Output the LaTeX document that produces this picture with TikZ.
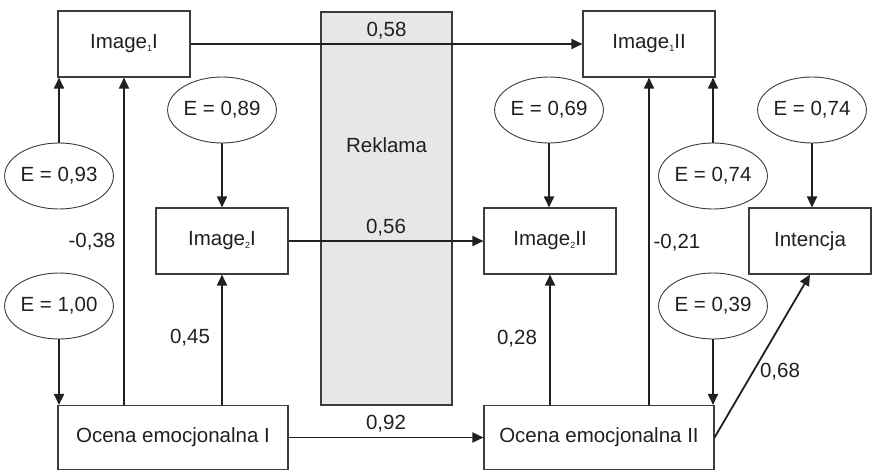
\documentclass[tikz,border=0pt]{standalone}
\usepackage{fontspec}
\setmainfont{Liberation Sans}
\usetikzlibrary{arrows.meta,shapes.geometric}
\definecolor{ink}{HTML}{231F20}
\definecolor{frame}{HTML}{3C3C3C}
\definecolor{adfill}{HTML}{E6E7E9}
\newcommand{\sbs}[1]{\raisebox{-2.5pt}{\fontsize{9}{9}\selectfont #1}}
\begin{document}
\begin{tikzpicture}[x=1pt,y=-1pt,
  every node/.style={text=ink,font=\fontsize{20.5}{24}\selectfont},
  var/.style={draw=frame,line width=1.1pt,fill=white,inner sep=0pt},
  err/.style={draw=frame,line width=0.9pt,ellipse,fill=white,inner sep=0pt,
              minimum width=101pt,minimum height=66pt},
  arr/.style={draw=ink,line width=1.8pt,-{Triangle[length=11pt,width=10pt]}},
  lbl/.style={inner sep=1pt}]
\useasboundingbox (0,0) rectangle (872,470);

% advertising block in the middle
\node[draw=frame,line width=1.1pt,fill=adfill,minimum width=131pt,minimum height=393pt,inner sep=0pt] (rek) at (386.5,208.5) {};
\node at (386.5,145) (rekt) {Reklama};

% observed variables
\node[var,minimum width=132pt,minimum height=66pt] (img1I) at (124,44) {Image\sbs{1}I};
\node[var,minimum width=132pt,minimum height=66pt] (img2I) at (222,241) {Image\sbs{2}I};
\node[var,minimum width=230pt,minimum height=64pt] (ocI) at (173,437.5) {Ocena emocjonalna I};
\node[var,minimum width=132pt,minimum height=66pt] (img1II) at (649,44) {Image\sbs{1}II};
\node[var,minimum width=132pt,minimum height=66pt] (img2II) at (550,241) {Image\sbs{2}II};
\node[var,minimum width=230pt,minimum height=64pt] (ocII) at (599,437.5) {Ocena emocjonalna II};
\node[var,minimum width=122pt,minimum height=66pt] (int) at (810,241) {Intencja};

% error terms
\node[err] (e93) at (59,176) {E = 0,93};
\node[err] (e89) at (222,110) {E = 0,89};
\node[err] (e100) at (59,306) {E = 1,00};
\node[err] (e69) at (549,110) {E = 0,69};
\node[err] (e74b) at (713,176) {E = 0,74};
\node[err] (e74a) at (812,110) {E = 0,74};
\node[err] (e39) at (713,306) {E = 0,39};

% error arrows
\draw[arr] (e93.north) -- (e93.north |- img1I.south);
\draw[arr] (e89.south) -- (e89.south |- img2I.north);
\draw[arr] (e100.south) -- (e100.south |- ocI.north);
\draw[arr] (e69.south) -- (e69.south |- img2II.north);
\draw[arr] (e74b.north) -- (e74b.north |- img1II.south);
\draw[arr] (e74a.south) -- (e74a.south |- int.north);
\draw[arr] (e39.south) -- (e39.south |- ocII.north);

% paths between variables
\draw[arr] (img1I.east) -- (img1II.west) node[lbl,midway,above=3pt] (l58) {0,58};
\draw[arr] (img2I.east) -- (img2II.west) node[lbl,midway,above=3pt] (l56) {0,56};
\draw[arr] (ocI.east) -- (ocII.west) node[lbl,midway,above=3pt] (l92) {0,92};
\draw[arr] (img1I.south |- ocI.north) -- (img1I.south);
\draw[arr] (img2I.south |- ocI.north) -- (img2I.south);
\draw[arr] (img1II.south |- ocII.north) -- (img1II.south);
\draw[arr] (img2II.south |- ocII.north) -- (img2II.south);
\draw[arr] (ocII.east) -- (int.south);

% path coefficients
\node[lbl] (l38) at (92,242) {-0,38};
\node[lbl] (l45) at (190,338) {0,45};
\node[lbl] (l28) at (517,339) {0,28};
\node[lbl] (l21) at (677,243) {-0,21};
\node[lbl] (l68) at (780,372) {0,68};
\end{tikzpicture}
\end{document}
